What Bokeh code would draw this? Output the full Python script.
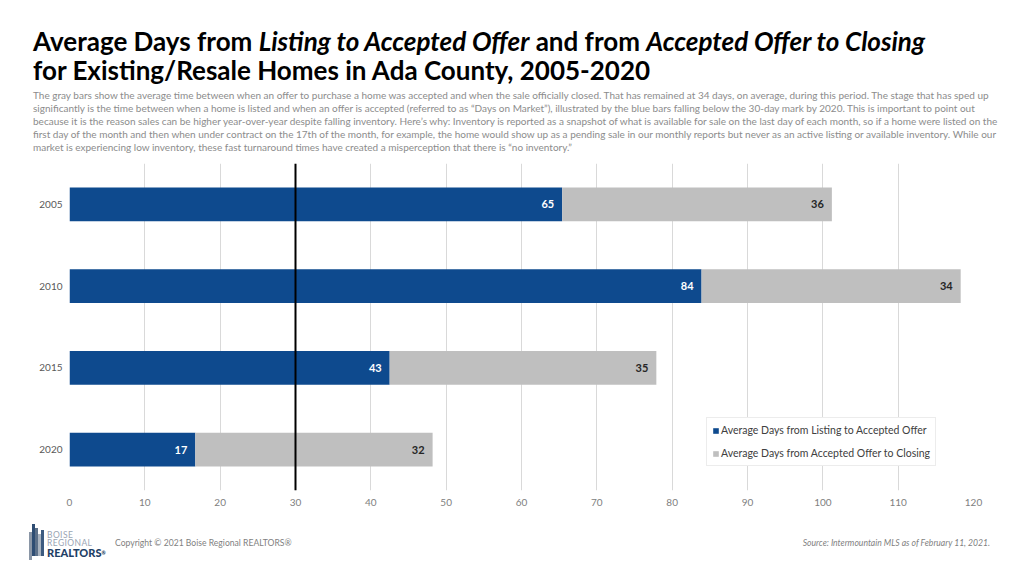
from bokeh.plotting import figure
from bokeh.models import (FactorRange, Range1d, Span, Legend, LegendItem, Div,
                          ColumnDataSource)
from bokeh.layouts import column
from bokeh.embed import file_html
from bokeh.resources import INLINE
from bokeh.core.properties import value

# ---------------- data ----------------
years = ["2005", "2010", "2015", "2020"]
listing_days = [65.4, 83.9, 42.5, 16.7]   # Listing -> Accepted Offer
closing_days = [35.8, 34.4, 35.4, 31.5]   # Accepted Offer -> Closing
series_names = ["Average Days from Listing to Accepted Offer",
                "Average Days from Accepted Offer to Closing"]
x_ticks = [0, 10, 20, 30, 40, 50, 60, 70, 80, 90, 100, 110, 120]
reference_mark = 30

title_line1 = ("Average Days from <i>Listing to Accepted Offer</i> and from "
               "<i>Accepted Offer to Closing</i>")
title_line2 = "for Existing/Resale Homes in Ada County, 2005-2020"
paragraph_lines = [
    "The gray bars show the average time between when an offer to purchase a home was accepted and when the sale officially closed. That has remained at 34 days, on average, during this period. The stage that has sped up",
    "significantly is the time between when a home is listed and when an offer is accepted (referred to as \u201cDays on Market\u201d), illustrated by the blue bars falling below the 30-day mark by 2020. This is important to point out",
    "because it is the reason sales can be higher year-over-year despite falling inventory. Here\u2019s why: Inventory is reported as a snapshot of what is available for sale on the last day of each month, so if a home were listed on the",
    "first day of the month and then when under contract on the 17th of the month, for example, the home would show up as a pending sale in our monthly reports but never as an active listing or available inventory. While our",
    "market is experiencing low inventory, these fast turnaround times have created a misperception that there is \u201cno inventory.\u201d",
]
copyright_text = "Copyright \u00a9 2021 Boise Regional REALTORS\u00ae"
source_text = "Source: Intermountain MLS as of February 11, 2021."

BLUE = "#0E4A8E"
GRAY = "#BFBFBF"
FONT = "Lato"
W = 1016


def half_up(v):
    return str(int(v + 0.5))


totals = [a + b for a, b in zip(listing_days, closing_days)]
src = ColumnDataSource(dict(
    year=years,
    listing=listing_days,
    closing=closing_days,
    total=totals,
    listing_lbl=[half_up(v) for v in listing_days],
    closing_lbl=[half_up(v) for v in closing_days],
))

# ---------------- header ----------------
header_html = (
    '<div style="position:relative;width:%dpx;height:153px;font-family:Lato,sans-serif;">' % W +
    '<div style="position:absolute;left:33px;top:27px;font-size:26px;font-weight:700;'
    'line-height:29px;color:#000;white-space:nowrap;">'
    + title_line1 + "<br>" + title_line2 +
    '</div>'
    '<div style="position:absolute;left:33px;top:89px;font-size:10px;line-height:13px;'
    'color:#8c8c8c;white-space:nowrap;">'
    + "<br>".join(paragraph_lines) +
    '</div></div>'
)
header = Div(text=header_html, width=W, height=153, margin=(0, 0, 0, 0))

# ---------------- chart ----------------
p = figure(width=W, height=367,
           y_range=FactorRange(factors=years[::-1]),
           x_range=Range1d(0, 120),
           output_backend="svg", toolbar_location=None,
           min_border_left=69, min_border_right=43,
           min_border_top=10, min_border_bottom=30)
p.outline_line_color = None
p.background_fill_color = "white"
p.border_fill_color = "white"

bars = p.hbar_stack(["listing", "closing"], y="year", height=0.41,
                    color=[BLUE, GRAY], line_color=None, source=src)

p.text(x="listing", y="year", text="listing_lbl", x_offset=-8,
       text_align="right", text_baseline="middle", text_color="white",
       text_font=value(FONT), text_font_style="bold", text_font_size="11px",
       source=src)
p.text(x="total", y="year", text="closing_lbl", x_offset=-8,
       text_align="right", text_baseline="middle", text_color="#262626",
       text_font=value(FONT), text_font_style="bold", text_font_size="11px",
       source=src)

p.add_layout(Span(location=reference_mark, dimension="height",
                  line_color="black", line_width=2, level="overlay"))

p.xaxis.ticker = x_ticks
p.xgrid.ticker = x_ticks
p.xgrid.grid_line_color = "#d9d9d9"
p.ygrid.grid_line_color = None
for ax in (p.xaxis[0], p.yaxis[0]):
    ax.axis_line_color = None
    ax.major_tick_line_color = None
    ax.minor_tick_line_color = None
    ax.major_tick_out = 0
    ax.major_tick_in = 0
    ax.minor_tick_out = 0
    ax.minor_tick_in = 0
    ax.major_label_text_font = FONT
    ax.major_label_text_font_size = "10px"
p.xaxis.major_label_text_color = "#808080"
p.xaxis.major_label_standoff = 8
p.yaxis.major_label_text_color = "#595959"
p.yaxis.major_label_standoff = 7

legend = Legend(items=[LegendItem(label=series_names[0], renderers=[bars[0]]),
                       LegendItem(label=series_names[1], renderers=[bars[1]])],
                location=(637, 24))
legend.border_line_color = "#d9d9d9"
legend.background_fill_color = "white"
legend.background_fill_alpha = 1
legend.label_text_font = FONT
legend.label_text_font_size = "10.5px"
legend.label_text_color = "#404040"
legend.glyph_width = 7
legend.glyph_height = 7
legend.label_height = 14
legend.spacing = 9
legend.padding = 5
legend.label_standoff = 2
legend.margin = 0
p.add_layout(legend)

# ---------------- footer ----------------
logo_bars = [(0, 8, 28, "#8a96a6"), (3, 0, 32, "#2e4d73"), (6, 4, 28, "#5b6f88"),
             (9, 10, 22, "#a9b3bf"), (12, 6, 26, "#3d5b80")]
bars_html = "".join(
    '<div style="position:absolute;left:%dpx;top:%dpx;width:3px;height:%dpx;background:%s;"></div>'
    % (29 + dx, 4 + dy, h, c) for dx, dy, h, c in logo_bars)
footer_html = (
    '<div style="position:relative;width:%dpx;height:48px;font-family:Lato,sans-serif;">' % W
    + bars_html +
    '<div style="position:absolute;left:47px;top:11px;font-size:8.5px;line-height:8px;'
    'color:#9aa5b3;letter-spacing:0.4px;white-space:nowrap;">BOISE</div>'
    '<div style="position:absolute;left:47px;top:19px;font-size:8.5px;line-height:8px;'
    'color:#9aa5b3;letter-spacing:0.4px;white-space:nowrap;">REGIONAL</div>'
    '<div style="position:absolute;left:47px;top:28px;font-size:11px;line-height:10px;'
    'font-weight:900;color:#1f3f66;white-space:nowrap;">REALTORS<span style="font-size:5px;vertical-align:top;">\u00ae</span></div>'
    '<div style="position:absolute;left:115px;top:17px;font-size:8.6px;line-height:12px;color:#7f7f7f;white-space:nowrap;">'
    + copyright_text + '</div>'
    '<div style="position:absolute;right:26px;top:17px;font-size:8.6px;line-height:12px;'
    'font-style:italic;color:#7f7f7f;white-space:nowrap;">' + source_text + '</div>'
    '</div>'
)
footer = Div(text=footer_html, width=W, height=48, margin=(0, 0, 0, 0))

layout = column(header, p, footer, spacing=0)
open("out.html", "w").write(file_html(layout, INLINE))
